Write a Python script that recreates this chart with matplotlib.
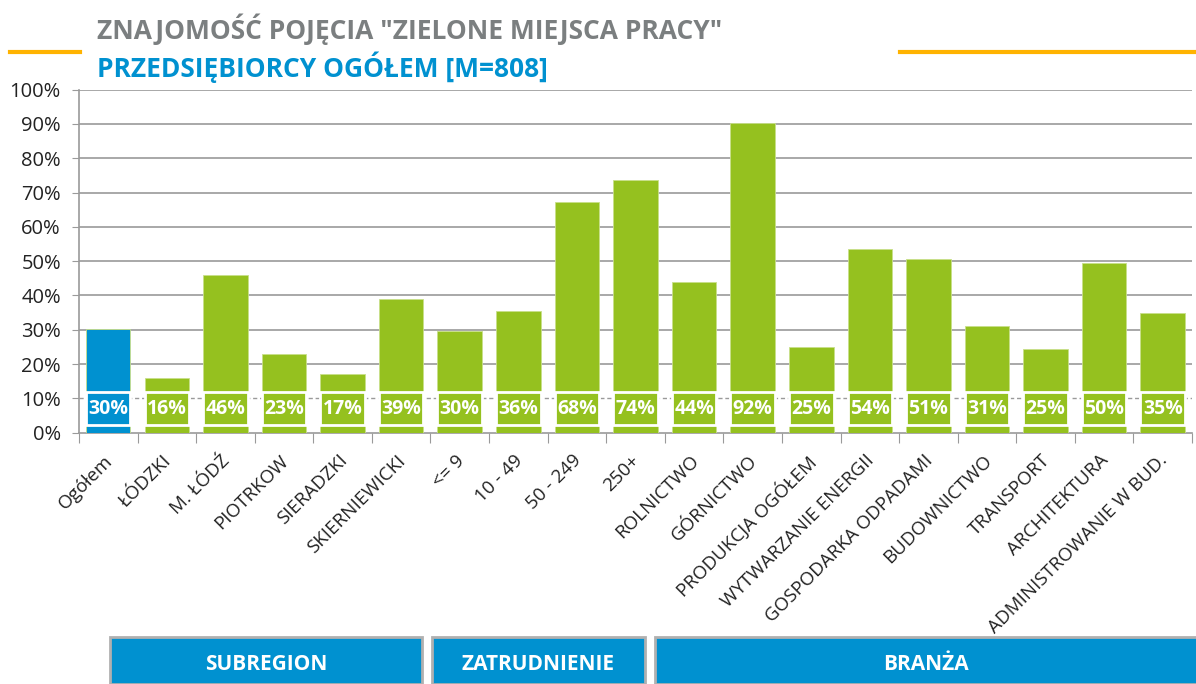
import matplotlib

matplotlib.use("Agg")

import matplotlib.pyplot as plt  # noqa: E402
from matplotlib.patches import Rectangle  # noqa: E402
from matplotlib.lines import Line2D  # noqa: E402

plt.rcParams["font.family"] = ["Open Sans", "DejaVu Sans"]

categories = [
    "Ogółem", "ŁÓDZKI", "M. ŁÓDŹ", "PIOTRKOW", "SIERADZKI", "SKIERNIEWICKI",
    "<= 9", "10 - 49", "50 - 249", "250+",
    "ROLNICTWO", "GÓRNICTWO", "PRODUKCJA OGÓŁEM", "WYTWARZANIE ENERGII",
    "GOSPODARKA ODPADAMI", "BUDOWNICTWO", "TRANSPORT", "ARCHITEKTURA",
    "ADMINISTROWANIE W BUD.",
]
# bar heights as drawn (share of firms)
heights = [30.3, 16.0, 46.1, 23.0, 17.2, 39.1,
           29.7, 35.6, 67.3, 73.8,
           43.8, 90.3, 25.1, 53.6, 50.5, 31.1, 24.5, 49.6, 34.8]
value_labels = ["30%", "16%", "46%", "23%", "17%", "39%",
                "30%", "36%", "68%", "74%",
                "44%", "92%", "25%", "54%", "51%", "31%", "25%", "50%", "35%"]
yticks = [0, 10, 20, 30, 40, 50, 60, 70, 80, 90, 100]
groups = ["SUBREGION", "ZATRUDNIENIE", "BRANŻA"]

GREEN = "#95C11F"
BLUE = "#0091D0"
GRID = "#9a9a9a"

fig = plt.figure(figsize=(11.96, 6.84), dpi=100)
ax = fig.add_axes([0.066, 0.3675, 0.9307, 0.5014])

x = list(range(len(categories)))
colors = [BLUE] + [GREEN] * (len(categories) - 1)
bw = 0.76
ax.bar(x, [h / 100 for h in heights], width=bw, color=colors,
       edgecolor="#c8e08a", linewidth=0.6, zorder=3)

# label boxes near the bottom of each bar
for xi, lab, c in zip(x, value_labels, colors):
    ax.add_patch(Rectangle((xi - bw / 2, 0.022), bw, 0.097, facecolor=c,
                           edgecolor="white", linewidth=2, zorder=4))
    ax.text(xi, 0.07, lab, ha="center", va="center", color="white",
            fontsize=14, fontweight="bold", zorder=5)

ax.set_xlim(-0.5, len(categories) - 0.5)
ax.set_ylim(0, 1.0)
ax.set_yticks([t / 100 for t in yticks])
ax.set_yticklabels([f"{t}%" for t in yticks], fontsize=14.5, color="#222222")
for t in yticks[2:]:
    ax.axhline(t / 100, color=GRID, linewidth=1.2, zorder=1)
ax.axhline(0.10, color=GRID, linewidth=1.0, linestyle=(0, (3, 2)), zorder=1)

ax.set_xticks([i + 0.5 for i in range(-1, len(categories))], minor=False)
ax.set_xticklabels([])
ax.tick_params(axis="x", length=7, color=GRID, direction="out")
ax.tick_params(axis="y", length=5, color=GRID, direction="out", pad=8)
for xi, name in zip(x, categories):
    ax.text(xi - 0.08, -0.055, name, rotation=45, ha="right", va="top",
            rotation_mode="anchor", fontsize=13.5, color="#222222",
            transform=ax.transData, clip_on=False)

for s in ["top", "right"]:
    ax.spines[s].set_visible(False)
ax.spines["left"].set_color(GRID)
ax.spines["bottom"].set_color(GRID)
ax.spines["left"].set_linewidth(1.2)
ax.spines["bottom"].set_linewidth(1.2)

# titles
fig.text(97 / 1196, 1 - 29 / 684, 'ZNAJOMOŚĆ POJĘCIA "ZIELONE MIEJSCA PRACY"',
         ha="left", va="center", fontsize=19, fontweight="bold",
         color="#7b7f80")
fig.text(97 / 1196, 1 - 67 / 684, "PRZEDSIĘBIORCY OGÓŁEM [M=808]",
         ha="left", va="center", fontsize=19, fontweight="bold", color=BLUE)

# orange accent lines
fig.add_artist(Line2D([10 / 1196, 80 / 1196], [1 - 52 / 684] * 2,
                      color="#FFB300", linewidth=3))
fig.add_artist(Line2D([900 / 1196, 1.0], [1 - 52 / 684] * 2,
                      color="#FFB300", linewidth=3))

# group header boxes
boxes = [(110, 422), (432, 645), (655, 1200)]
for (x0, x1), name in zip(boxes, groups):
    fig.add_artist(Rectangle((x0 / 1196, 0), (x1 - x0) / 1196, 47 / 684,
                             facecolor=BLUE, edgecolor="#b0b0b0", linewidth=2,
                             transform=fig.transFigure))
    fig.text((x0 + min(x1, 1196)) / 2 / 1196, 19 / 684, name, ha="center",
             va="center", color="white", fontsize=15, fontweight="bold")

fig.savefig("out.png", dpi=100)
